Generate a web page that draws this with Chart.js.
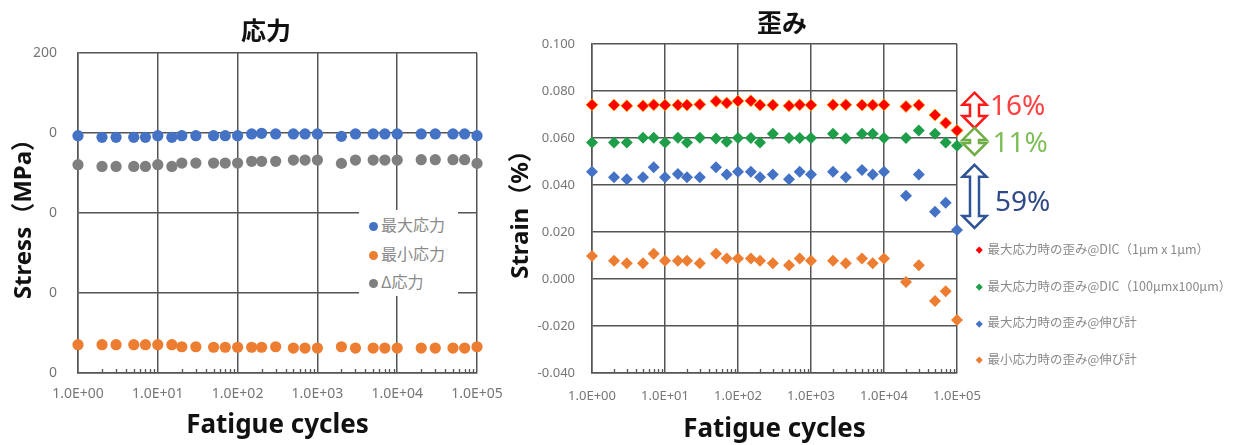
<!DOCTYPE html>
<html>
<head>
<meta charset="utf-8">
<script src="https://cdn.jsdelivr.net/npm/chart.js@4.4.1/dist/chart.umd.min.js"></script>
<style>
body{margin:0;background:#fff;width:1235px;height:445px;overflow:hidden;position:relative;font-family:"Noto Sans","Noto Sans CJK JP",sans-serif;}
canvas{position:absolute;top:0;}
#stressChart{left:0;}
#strainChart{left:500px;}
.title{position:absolute;font-family:"Noto Sans CJK JP",sans-serif;font-weight:bold;font-size:25px;line-height:30px;color:#111;transform:translate(-50%,-50%);white-space:nowrap;}
.legend{position:absolute;background:#fff;}
.item{position:absolute;white-space:nowrap;font-family:"Noto Sans CJK JP",sans-serif;color:#8a8a8a;transform:translateY(-50%);}
.dot{display:inline-block;border-radius:50%;vertical-align:middle;}
.dia{display:inline-block;transform:rotate(45deg);vertical-align:middle;}
</style>
</head>
<body>
<canvas id="stressChart" width="520" height="445"></canvas>
<canvas id="strainChart" width="735" height="445"></canvas>
<div class="title" style="left:266px;top:29px;">応力</div>
<div class="title" style="left:782px;top:21px;">歪み</div>
<div class="legend" id="stressLegend" style="left:359px;top:210px;width:99px;height:86px;"></div>
<div id="strainLegend"></div>
<script>
// fatigue cycles (x)
const cycles = [1,2,3,5,7,10,15,20,30,50,70,100,150,200,300,500,700,1000,2000,3000,5000,7000,10000,20000,30000,50000,70000,100000];

// stress (MPa)
const maxStress = [148.3,147.3,147.3,147.3,147.3,148.3,147.3,148.3,148.3,148.3,148.3,148.3,149.4,149.8,149.4,149.4,149.4,149.4,147.9,149.4,149.4,149.4,149.4,149.4,149.4,149.4,149.4,148.3];
const minStress = [17.7,17.7,17.7,17.7,17.7,17.7,17.7,16.4,16.4,16.1,16.1,16.1,16.1,16.1,16.4,15.6,15.6,15.6,16.4,15.6,15.6,15.6,15.6,15.6,15.6,15.6,15.6,16.4];
const deltaStress = [130.2,129.1,129.1,129.1,129.1,130.2,129.1,131.2,131.2,131.2,131.2,131.2,132.3,132.3,132.3,133.1,133.1,133.1,131.0,133.1,133.1,133.1,133.1,133.3,133.3,133.3,133.3,131.0];

// strain (%)
const strainMaxDic1 = [0.0741,0.0740,0.0737,0.0737,0.0741,0.0740,0.0740,0.0740,0.0743,0.0756,0.0749,0.0757,0.0758,0.0740,0.0740,0.0737,0.0741,0.0740,0.0741,0.0741,0.0740,0.0740,0.0741,0.0734,0.0740,0.0698,0.0664,0.0632];
const strainMaxDic100 = [0.0581,0.0581,0.0581,0.0601,0.0601,0.0581,0.0601,0.0581,0.0601,0.0598,0.0584,0.0600,0.0600,0.0581,0.0618,0.0600,0.0600,0.0600,0.0618,0.0598,0.0618,0.0618,0.0600,0.0600,0.0632,0.0618,0.0581,0.0567];
const strainMaxExt = [0.0456,0.0433,0.0425,0.0433,0.0476,0.0433,0.0447,0.0433,0.0433,0.0476,0.0445,0.0456,0.0456,0.0433,0.0445,0.0425,0.0456,0.0445,0.0456,0.0433,0.0464,0.0445,0.0456,0.0354,0.0445,0.0286,0.0325,0.0209];
const strainMinExt = [0.0098,0.0078,0.0067,0.0067,0.0107,0.0078,0.0078,0.0078,0.0067,0.0107,0.0087,0.0087,0.0087,0.0078,0.0067,0.0058,0.0087,0.0078,0.0078,0.0067,0.0087,0.0067,0.0087,-0.0013,0.0058,-0.0094,-0.0052,-0.0174];

// ticks
const xTickValues = [1,10,100,1000,10000,100000];
const xTickLabels = ['1.0E+00','1.0E+01','1.0E+02','1.0E+03','1.0E+04','1.0E+05'];
const stressTickValues = [0,50,100,150,200];
const stressTickLabels = ['0','0','0','0','200'];
const strainTickValues = [-0.04,-0.02,0,0.02,0.04,0.06,0.08,0.1];
const strainTickLabels = ['-0.040','-0.020','0.000','0.020','0.040','0.060','0.080','0.100'];

const stressNames = ['最大応力','最小応力','Δ応力'];
const strainNames = ['最大応力時の歪み@DIC（1μm x 1μm）','最大応力時の歪み@DIC（100μmx100μm）','最大応力時の歪み@伸び計','最小応力時の歪み@伸び計'];

// change-rate notes beside the strain chart: [label, from, to, text y]
const rateNotes = [
    ['16%', 0.0793, 0.0643, 0.0733],
    ['11%', 0.0643, 0.0528, 0.0575],
    ['59%', 0.0486, 0.0217, 0.0324]
];

const GRID = '#555555';
const TICK = '#767676';
const FONT = "'Noto Sans', 'Noto Sans CJK JP', sans-serif";

Chart.defaults.animation = false;

function pts(ys){
    return cycles.map((c,i) => ({x:c, y:ys[i]}));
}

const minorTicks = {
    id: 'minorTicks',
    beforeDatasetsDraw(chart){
        const ctx = chart.ctx, xs = chart.scales.x, b = chart.chartArea.bottom;
        ctx.save();
        ctx.strokeStyle = GRID;
        ctx.lineWidth = 1.3;
        for(let d=1; d<100000; d*=10){
            for(let m=2; m<10; m++){
                const px = Math.round(xs.getPixelForValue(m*d)) + 0.5;
                ctx.beginPath();
                ctx.moveTo(px, b);
                ctx.lineTo(px, b-4);
                ctx.stroke();
            }
        }
        ctx.restore();
    }
};

function doubleArrow(ctx, cx, yTop, yBot, color){
    const halfW = 12, shaft = 4.5;
    const head = Math.min(12, (yBot-yTop)/2 - 1.5);
    ctx.beginPath();
    ctx.moveTo(cx, yTop);
    ctx.lineTo(cx+halfW, yTop+head);
    ctx.lineTo(cx+shaft, yTop+head);
    ctx.lineTo(cx+shaft, yBot-head);
    ctx.lineTo(cx+halfW, yBot-head);
    ctx.lineTo(cx, yBot);
    ctx.lineTo(cx-halfW, yBot-head);
    ctx.lineTo(cx-shaft, yBot-head);
    ctx.lineTo(cx-shaft, yTop+head);
    ctx.lineTo(cx-halfW, yTop+head);
    ctx.closePath();
    ctx.fillStyle = '#fff';
    ctx.fill();
    ctx.strokeStyle = color;
    ctx.lineWidth = 2.5;
    ctx.stroke();
}

const noteColors = [['#ff1a1a','#ff4040'],['#70ad47','#7fbf5a'],['#2f5597','#2f4a86']];
const rateArrows = {
    id: 'rateArrows',
    afterDraw(chart){
        const ctx = chart.ctx, ys = chart.scales.y, r = chart.chartArea.right;
        ctx.save();
        rateNotes.forEach((n,i) => {
            doubleArrow(ctx, r+17.5, ys.getPixelForValue(n[1]), ys.getPixelForValue(n[2]), noteColors[i][0]);
            ctx.fillStyle = noteColors[i][1];
            ctx.font = "28px " + FONT;
            ctx.textBaseline = 'middle';
            ctx.textAlign = 'left';
            ctx.fillText(n[0], r+33+i*2.5, ys.getPixelForValue(n[3]));
        });
        ctx.restore();
    }
};

function xAxis(pad, size, titlePad){
    return {
        type: 'logarithmic',
        min: 1, max: 100000,
        afterBuildTicks: s => { s.ticks = xTickValues.map(v => ({value:v})); },
        afterFit: s => { s.height = 72; },
        grid: {color: GRID, lineWidth: 1.5, drawTicks: false},
        border: {color: GRID, width: 1.5},
        ticks: {
            color: TICK, padding: pad, font: {family: FONT, size: size}, maxRotation: 0,
            callback: (v,i) => xTickLabels[i]
        },
        title: {display: true, text: 'Fatigue cycles', color: '#111', font: {family: FONT, size: 26, weight: 'bold'}, padding: {bottom: titlePad}}
    };
}

new Chart(document.getElementById('stressChart'), {
    type: 'scatter',
    data: {
        datasets: [
            {label: stressNames[0], data: pts(maxStress), backgroundColor: '#4472c4', borderColor: '#4472c4', clip: false},
            {label: stressNames[1], data: pts(minStress), backgroundColor: '#ed7d31', borderColor: '#ed7d31', clip: false},
            {label: stressNames[2], data: pts(deltaStress), backgroundColor: '#7f7f7f', borderColor: '#7f7f7f', clip: false}
        ]
    },
    options: {
        responsive: false,
        layout: {padding: {top: 53, right: 43, left: 0, bottom: 0}},
        elements: {point: {radius: 5.6, borderWidth: 0, hoverRadius: 5.6}},
        plugins: {legend: {display: false}, tooltip: {enabled: false}},
        scales: {
            x: xAxis(13, 14, 4),
            y: {
                min: 0, max: 200,
                afterBuildTicks: s => { s.ticks = stressTickValues.map(v => ({value:v})); },
                afterFit: s => { s.width = 78; },
                grid: {color: GRID, lineWidth: 1.5, drawTicks: false},
                border: {color: GRID, width: 1.5},
                ticks: {color: TICK, padding: 21, font: {family: FONT, size: 14}, callback: (v,i) => stressTickLabels[i]},
                title: {display: true, text: 'Stress（MPa）', color: '#111', font: {family: FONT, size: 24, weight: 'bold'}, padding: {top: 10}}
            }
        }
    },
    plugins: [minorTicks]
});

new Chart(document.getElementById('strainChart'), {
    type: 'scatter',
    data: {
        datasets: [
            {label: strainNames[0], data: pts(strainMaxDic1), backgroundColor: '#ff0000', borderColor: '#ffb000', borderWidth: 0.8, clip: false},
            {label: strainNames[1], data: pts(strainMaxDic100), backgroundColor: '#1e9e48', borderColor: '#1e9e48', clip: false},
            {label: strainNames[2], data: pts(strainMaxExt), backgroundColor: '#4472c4', borderColor: '#4472c4', clip: false},
            {label: strainNames[3], data: pts(strainMinExt), backgroundColor: '#ed7d31', borderColor: '#ed7d31', clip: false}
        ]
    },
    options: {
        responsive: false,
        layout: {padding: {top: 44, right: 278, left: 0, bottom: 0}},
        elements: {point: {pointStyle: 'rectRot', radius: 6, hoverRadius: 6, borderWidth: 0}},
        plugins: {legend: {display: false}, tooltip: {enabled: false}},
        scales: {
            x: xAxis(15, 13, 0),
            y: {
                min: -0.04, max: 0.1,
                afterBuildTicks: s => { s.ticks = strainTickValues.map(v => ({value:v})); },
                afterFit: s => { s.width = 92; },
                grid: {color: GRID, lineWidth: 1.5, drawTicks: false},
                border: {color: GRID, width: 1.5},
                ticks: {color: TICK, padding: 17, font: {family: FONT, size: 13}, callback: (v,i) => strainTickLabels[i]},
                title: {display: true, text: 'Strain（%）', color: '#111', font: {family: FONT, size: 24, weight: 'bold'}, padding: {top: 7}}
            }
        }
    },
    plugins: [minorTicks, rateArrows]
});

// legends (html)
const stressColors = ['#4472c4','#ed7d31','#7f7f7f'];
const sl = document.getElementById('stressLegend');
stressNames.forEach((name,i) => {
    const d = document.createElement('div');
    d.className = 'item';
    d.style.left = '10px';
    d.style.top = (14 + i*28.5) + 'px';
    d.style.fontSize = '16px';
    d.innerHTML = `<span class="dot" style="width:9px;height:9px;background:${stressColors[i]};margin-right:3px;"></span>${name}`;
    sl.appendChild(d);
});

const strainColors = ['#ff0000','#1e9e48','#4472c4','#ed7d31'];
const tl = document.getElementById('strainLegend');
strainNames.forEach((name,i) => {
    const d = document.createElement('div');
    d.className = 'item';
    d.style.left = '977px';
    d.style.top = (248 + i*36.7) + 'px';
    d.style.fontSize = '12.5px';
    d.innerHTML = `<span class="dia" style="width:4.5px;height:4.5px;background:${strainColors[i]};margin-right:6px;"></span>${name}`;
    tl.appendChild(d);
});
</script>
</body>
</html>
